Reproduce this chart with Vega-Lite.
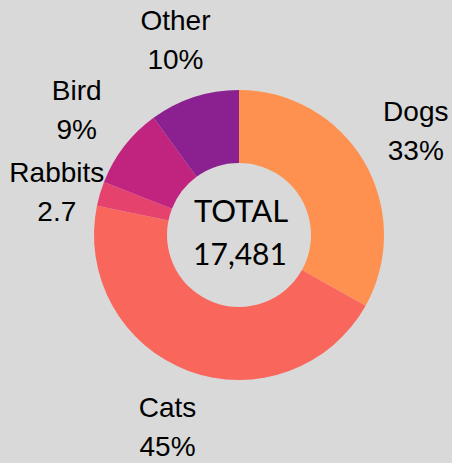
{
  "$schema": "https://vega.github.io/schema/vega-lite/v6.json",
  "autosize": "none",
  "width": 426,
  "height": 456,
  "padding": {"left": 26, "top": 7, "right": 0, "bottom": 0},
  "background": "#d9d9d9",
  "config": {"view": {"stroke": null}},
  "layer": [
    {
      "data": {"values": [
        {"category": "Dogs", "value": 33, "rank": 1, "label": ["Dogs", "33%"]},
        {"category": "Cats", "value": 45, "rank": 2, "label": ["Cats", "45%"]},
        {"category": "Rabbits", "value": 2.7, "rank": 3, "label": ["Rabbits", "2.7"]},
        {"category": "Bird", "value": 9, "rank": 4, "label": ["Bird", "9%"]},
        {"category": "Other", "value": 10, "rank": 5, "label": ["Other", "10%"]}
      ]},
      "encoding": {
        "theta": {"field": "value", "type": "quantitative", "stack": true},
        "order": {"field": "rank", "type": "quantitative"}
      },
      "layer": [
        {
          "mark": {"type": "arc", "outerRadius": 145, "innerRadius": 72},
          "encoding": {
            "color": {
              "field": "category",
              "type": "nominal",
              "scale": {
                "domain": ["Dogs", "Cats", "Rabbits", "Bird", "Other"],
                "range": ["#ff9150", "#f8665c", "#e5426e", "#c0247f", "#8b2190"]
              },
              "legend": null
            }
          }
        },
        {
          "mark": {"type": "text", "radius": 205, "dy": -10, "font": "Liberation Sans", "fontSize": 28, "lineHeight": 39, "align": "center", "baseline": "alphabetic", "color": "#000000"},
          "encoding": {
            "text": {"condition": {"test": "datum.category === 'Rabbits'", "value": ""}, "field": "label", "type": "nominal"}
          }
        },
        {
          "mark": {"type": "text", "radius": 190, "dy": 1, "font": "Liberation Sans", "fontSize": 28, "lineHeight": 39, "align": "center", "baseline": "alphabetic", "color": "#000000"},
          "encoding": {
            "text": {"condition": {"test": "datum.category !== 'Rabbits'", "value": ""}, "field": "label", "type": "nominal"}
          }
        }
      ]
    },
    {
      "data": {"values": [{"center": "TOTAL"}]},
      "mark": {"type": "text", "font": "Lato", "fontWeight": 400, "fontSize": 31, "letterSpacing": 3.5, "align": "center", "baseline": "alphabetic", "dx": 2, "dy": -13, "color": "#000000"},
      "encoding": {"text": {"field": "center", "type": "nominal"}}
    },
    {
      "data": {"values": [{"center": "17,481"}]},
      "mark": {"type": "text", "font": "Lato", "fontWeight": 400, "fontSize": 30, "letterSpacing": -2.5, "align": "center", "baseline": "alphabetic", "dx": 1, "dy": 30, "color": "#000000"},
      "encoding": {"text": {"field": "center", "type": "nominal"}}
    }
  ]
}
